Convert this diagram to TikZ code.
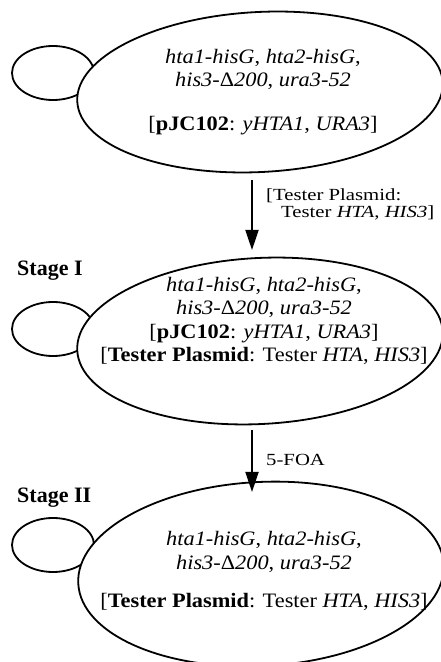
\documentclass[tikz,border=0pt]{standalone}
\usepackage{fontspec}
\setmainfont{Liberation Serif}
\newfontfamily\genofont[FakeStretch=1.09]{Liberation Serif}
\newfontfamily\lblfont[FakeStretch=1.22]{Liberation Serif}
\usetikzlibrary{shapes.geometric,arrows.meta,calc}
\newcommand{\dlt}{\textup{Δ}}
\begin{document}
\begin{tikzpicture}[x=1pt,y=1pt,
  cell/.style={draw,line width=1.8pt,ellipse,fill=white,inner sep=0pt},
  bud/.style={draw,line width=1.8pt,ellipse,inner sep=0pt,minimum width=82pt,minimum height=54pt},
  geno/.style={align=center,font=\genofont\fontsize{20.5}{23.5}\selectfont,inner sep=0pt},
  lbl/.style={align=left,font=\lblfont\fontsize{17}{17.5}\selectfont,inner sep=0pt,anchor=base west},
  stage/.style={font=\fontsize{22}{24}\selectfont\bfseries,inner sep=0pt,anchor=base west},
  arr/.style={line width=1.8pt,-{Triangle[length=20pt,width=13pt]}}]
\useasboundingbox (0,0) rectangle (441,662);
% buds
\node[bud] (b1) at (53,589) {};
\node[bud] (b2) at (53,333) {};
\node[bud] (b3) at (53,117) {};
% cells
\node[cell,minimum width=366pt,minimum height=160pt,rotate=3] (e1) at (260,570) {};
\node[cell,minimum width=366pt,minimum height=166pt,rotate=3] (e2) at (260,321) {};
\node[cell,minimum width=366pt,minimum height=184pt,rotate=3] (e3) at (261,88) {};
% texts
\node[geno] (t1) at (263,570) {\textit{hta1-hisG}, \textit{hta2-hisG},\\ \textit{his3-\dlt200}, \textit{ura3-52}\\[20pt] {[}\textbf{pJC102}: \textit{yHTA1}, \textit{URA3}]};
\node[geno] (t2) at (264,341) {\textit{hta1-hisG}, \textit{hta2-hisG},\\ \textit{his3-\dlt200}, \textit{ura3-52}\\ {[}\textbf{pJC102}: \textit{yHTA1}, \textit{URA3}]\\ {[}\textbf{Tester Plasmid}: Tester \textit{HTA}, \textit{HIS3}]};
\node[geno] (t3) at (264,91) {\textit{hta1-hisG}, \textit{hta2-hisG},\\ \textit{his3-\dlt200}, \textit{ura3-52}\\[15pt] {[}\textbf{Tester Plasmid}: Tester \textit{HTA}, \textit{HIS3}]};
% stage labels
\node[stage] (s1) at (17,386) {Stage I};
\node[stage] (s2) at (17,159) {Stage II};
% arrows
\coordinate (a1s) at (252,482);
\coordinate (a1e) at (252,412);
\coordinate (a2s) at (252,232);
\coordinate (a2e) at (252,170);
\draw[arr] (a1s) -- (a1e);
\draw[arr] (a2s) -- (a2e);
\node[lbl] (l1) at (266,444) {[Tester Plasmid:\\\hspace*{15pt}Tester \textit{HTA}, \textit{HIS3}]};
\node[lbl] (l2) at (266,196) {5-FOA};
\end{tikzpicture}
\end{document}
